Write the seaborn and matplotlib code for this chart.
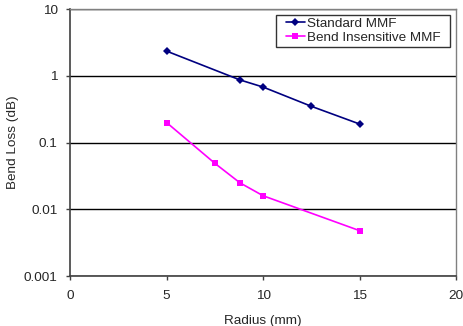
import pandas as pd
import numpy as np
import matplotlib
matplotlib.use('Agg')
import matplotlib.pyplot as plt
import seaborn as sns
from matplotlib.path import Path
from matplotlib.ticker import FixedLocator, FixedFormatter, NullLocator

# data
radius_std = [5, 8.8, 10, 12.5, 15]
loss_std = [2.35, 0.87, 0.68, 0.35, 0.19]
radius_bi = [5, 7.5, 8.8, 10, 15]
loss_bi = [0.2, 0.049, 0.025, 0.016, 0.0048]
series_names = ['Standard MMF', 'Bend Insensitive MMF']
y_ticks = [0.001, 0.01, 0.1, 1, 10]
y_labels = ['0.001', '0.01', '0.1', '1', '10']
x_ticks = [0, 5, 10, 15, 20]

df = pd.concat([
    pd.DataFrame({'Radius': radius_std, 'Loss': loss_std, 'Fibre': series_names[0]}),
    pd.DataFrame({'Radius': radius_bi, 'Loss': loss_bi, 'Fibre': series_names[1]}),
])

sns.set_style('white')
plt.rcParams['font.family'] = ['Liberation Sans', 'DejaVu Sans']
fs = 9.7

fig = plt.figure(figsize=(4.64, 3.26), dpi=100)
ax = fig.add_axes([0.151, 0.153, 0.832, 0.819])

palette = {series_names[0]: '#000080', series_names[1]: '#ff00ff'}
markers = {series_names[0]: 'D', series_names[1]: 's'}
sns.lineplot(data=df, x='Radius', y='Loss', hue='Fibre', style='Fibre',
             palette=palette, markers=markers, dashes=False, ax=ax,
             linewidth=1.2, markeredgewidth=0)
for line in ax.lines:
    if line.get_marker() == 'D':
        line.set_markersize(3.8)
    else:
        line.set_markersize(4.3)

ax.set_yscale('log')
ax.set_ylim(0.001, 10)
ax.set_xlim(0, 20)
ax.yaxis.set_major_locator(FixedLocator(y_ticks))
ax.yaxis.set_major_formatter(FixedFormatter(y_labels))
ax.yaxis.set_minor_locator(NullLocator())
ax.set_xticks(x_ticks)
ax.yaxis.grid(True, color='black', linewidth=1)
ax.xaxis.grid(False)
ax.set_axisbelow(True)

for s in ['left', 'bottom']:
    ax.spines[s].set_color('#404040')
    ax.spines[s].set_linewidth(1.2)
for s in ['top', 'right']:
    ax.spines[s].set_color('#808080')
    ax.spines[s].set_linewidth(1)

ax.tick_params(axis='both', which='major', direction='out', length=3, width=1,
               color='#404040', labelsize=fs, bottom=True, left=True, pad=6)
ax.tick_params(axis='x', pad=7)
ax.set_xlabel('Radius (mm)', fontsize=fs, labelpad=9.5)
ax.set_ylabel('Bend Loss (dB)', fontsize=fs, labelpad=3.5)

leg = ax.legend(title=None, loc='upper right', fontsize=fs, frameon=True, fancybox=False,
                borderpad=0.2, handlelength=1.4, handletextpad=0.15, labelspacing=0.1,
                borderaxespad=0, bbox_to_anchor=(0.966, 0.978))


# legend frame: wider padding left/right than top/bottom (like excel)
def wide_box(x0, y0, width, height, mutation_size):
    px = 0.55 * mutation_size
    return Path([(x0 - px, y0), (x0 + width + px, y0), (x0 + width + px, y0 + height),
                 (x0 - px, y0 + height), (x0 - px, y0)], closed=True)


leg.get_frame().set_boxstyle(wide_box)
leg.get_frame().set_edgecolor('black')
leg.get_frame().set_linewidth(1)

plt.savefig('out.png', dpi=100)
